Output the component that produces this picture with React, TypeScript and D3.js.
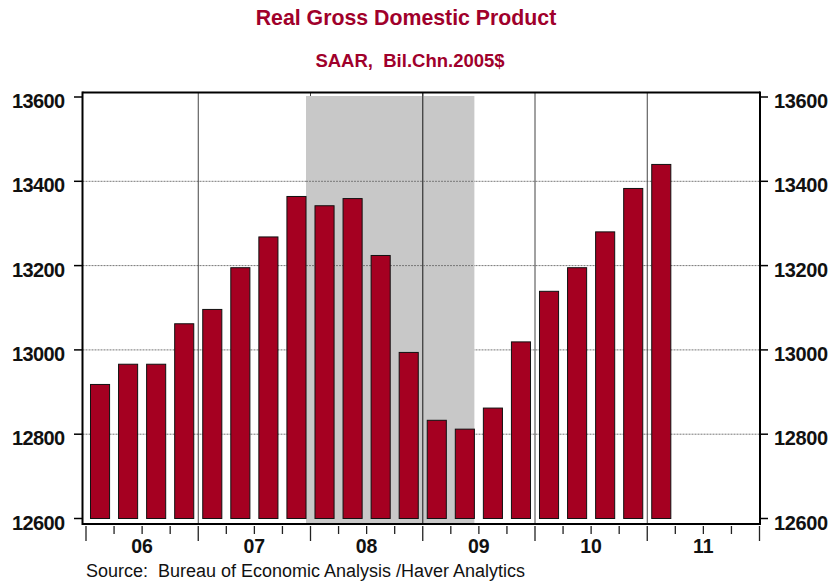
import React from "react";
import * as d3 from "d3";

const quarters = [
  "2006Q1","2006Q2","2006Q3","2006Q4",
  "2007Q1","2007Q2","2007Q3","2007Q4",
  "2008Q1","2008Q2","2008Q3","2008Q4",
  "2009Q1","2009Q2","2009Q3","2009Q4",
  "2010Q1","2010Q2","2010Q3","2010Q4",
  "2011Q1",
];
const gdp = [
  12918, 12966, 12966, 13062,
  13096, 13195, 13268, 13364,
  13342, 13359, 13224, 12994,
  12833, 12812, 12862, 13019,
  13139, 13195, 13280, 13383,
  13440,
];
const yTicks = [12600, 12800, 13000, 13200, 13400, 13600];
const yearLabels = ["06", "07", "08", "09", "10", "11"];
const years = [2006, 2007, 2008, 2009, 2010, 2011];
const recession = [2007.96, 2009.46];

const RED = "#A50021";
const TITLE = "#A0002B";
const FONT = "'Liberation Sans', Arial, sans-serif";

export default function App() {
  const W = 833, H = 583;
  const frame = { left: 82.5, right: 760, top: 92.5, bottom: 524 };
  const x = d3.scaleLinear().domain([2006, 2012]).range([86, 759.5]);
  const y = d3.scaleLinear().domain([12600, 13600]).range([518.5, 97]);
  const qPos = (q: string) => {
    const yr = +q.slice(0, 4);
    const qq = +q.slice(5);
    return yr + (qq - 0.5) / 4;
  };
  const barW = 0.17 * (x(2007) - x(2006));
  const qTicks = d3.range(0, 24 + 1).map((i) => 2006 + i / 4);

  return (
    <svg width={W} height={H} style={{ position: "absolute", left: 0, top: 0 }}>
      <rect x={0} y={0} width={W} height={H} fill="#fff" />
      {/* titles */}
      <text x={406} y={25} textAnchor="middle" fontFamily={FONT} fontWeight="bold" fontSize={21.3} fill={TITLE}>
        Real Gross Domestic Product
      </text>
      <text x={410} y={66.5} textAnchor="middle" fontFamily={FONT} fontWeight="bold" fontSize={18.5} fill={TITLE} style={{ whiteSpace: "pre" }}>
        {"SAAR,  Bil.Chn.2005$"}
      </text>

      {/* horizontal gridlines */}
      {yTicks.filter((t) => t > 12600 && t < 13600).map((t) => (
        <line key={"h" + t} x1={frame.left} x2={frame.right} y1={y(t)} y2={y(t)} stroke="#777" strokeWidth={1} strokeDasharray="2,1" />
      ))}
      {/* vertical gridlines */}
      {years.slice(1).map((yr) => (
        <line key={"v" + yr} x1={x(yr)} x2={x(yr)} y1={frame.top} y2={frame.bottom} stroke="#444" strokeWidth={1} />
      ))}
      {/* recession shading */}
      <rect x={x(recession[0])} y={y(13600) - 1} width={x(recession[1]) - x(recession[0])} height={frame.bottom - y(13600) + 1} fill="#C8C8C8" />
      {/* 2009 gridline shows over shading in reference */}
      <line x1={x(2009)} x2={x(2009)} y1={frame.top} y2={frame.bottom} stroke="#333" strokeWidth={1.2} />
      <line x1={x(recession[0])} x2={x(recession[1])} y1={y(13400)} y2={y(13400)} stroke="#777" strokeWidth={1} strokeDasharray="2,1" />
      <line x1={x(recession[0])} x2={x(recession[1])} y1={y(13200)} y2={y(13200)} stroke="#777" strokeWidth={1} strokeDasharray="2,1" />

      {/* bars */}
      {quarters.map((q, i) => (
        <rect key={q} x={x(qPos(q)) - barW / 2} y={y(gdp[i])} width={barW} height={y(12600) - y(gdp[i])} fill={RED} stroke="#111" strokeWidth={1} />
      ))}

      {/* frame */}
      <line x1={frame.left} x2={frame.right} y1={frame.top} y2={frame.top} stroke="#000" strokeWidth={2} />
      <line x1={frame.left} x2={frame.right} y1={frame.bottom} y2={frame.bottom} stroke="#000" strokeWidth={2} />
      <line x1={frame.left} x2={frame.left} y1={frame.top - 1} y2={frame.bottom + 1} stroke="#000" strokeWidth={2} />
      <line x1={frame.right} x2={frame.right} y1={frame.top - 1} y2={frame.bottom + 1} stroke="#000" strokeWidth={2} />

      {/* y axes */}
      {yTicks.map((t) => (
        <g key={"yt" + t}>
          <line x1={74} x2={frame.left} y1={y(t)} y2={y(t)} stroke="#000" strokeWidth={1.5} />
          <line x1={frame.right} x2={768} y1={y(t)} y2={y(t)} stroke="#000" strokeWidth={1.5} />
          <text x={64.5} y={y(t) + 11} textAnchor="end" fontFamily={FONT} fontWeight="bold" fontSize={20} letterSpacing={-0.6} fill="#111">
            {t}
          </text>
          <text x={774} y={y(t) + 11} textAnchor="start" fontFamily={FONT} fontWeight="bold" fontSize={20} letterSpacing={-0.4} fill="#111">
            {t}
          </text>
        </g>
      ))}

      {/* x axis ticks */}
      {qTicks.map((t, i) => (
        <line key={"xt" + i} x1={x(t)} x2={x(t)} y1={526} y2={i % 4 === 0 ? 541 : 534} stroke="#222" strokeWidth={1.3} />
      ))}
      {yearLabels.map((l, i) => (
        <text key={l} x={x(years[i] + 0.5)} y={553.3} textAnchor="middle" fontFamily={FONT} fontWeight="bold" fontSize={19.5} fill="#111">
          {l}
        </text>
      ))}

      <text x={86} y={576.5} fontFamily={FONT} fontSize={18} fill="#111" textLength={439} lengthAdjust="spacingAndGlyphs" style={{ whiteSpace: "pre" }}>
        {"Source:  Bureau of Economic Analysis /Haver Analytics"}
      </text>
    </svg>
  );
}
